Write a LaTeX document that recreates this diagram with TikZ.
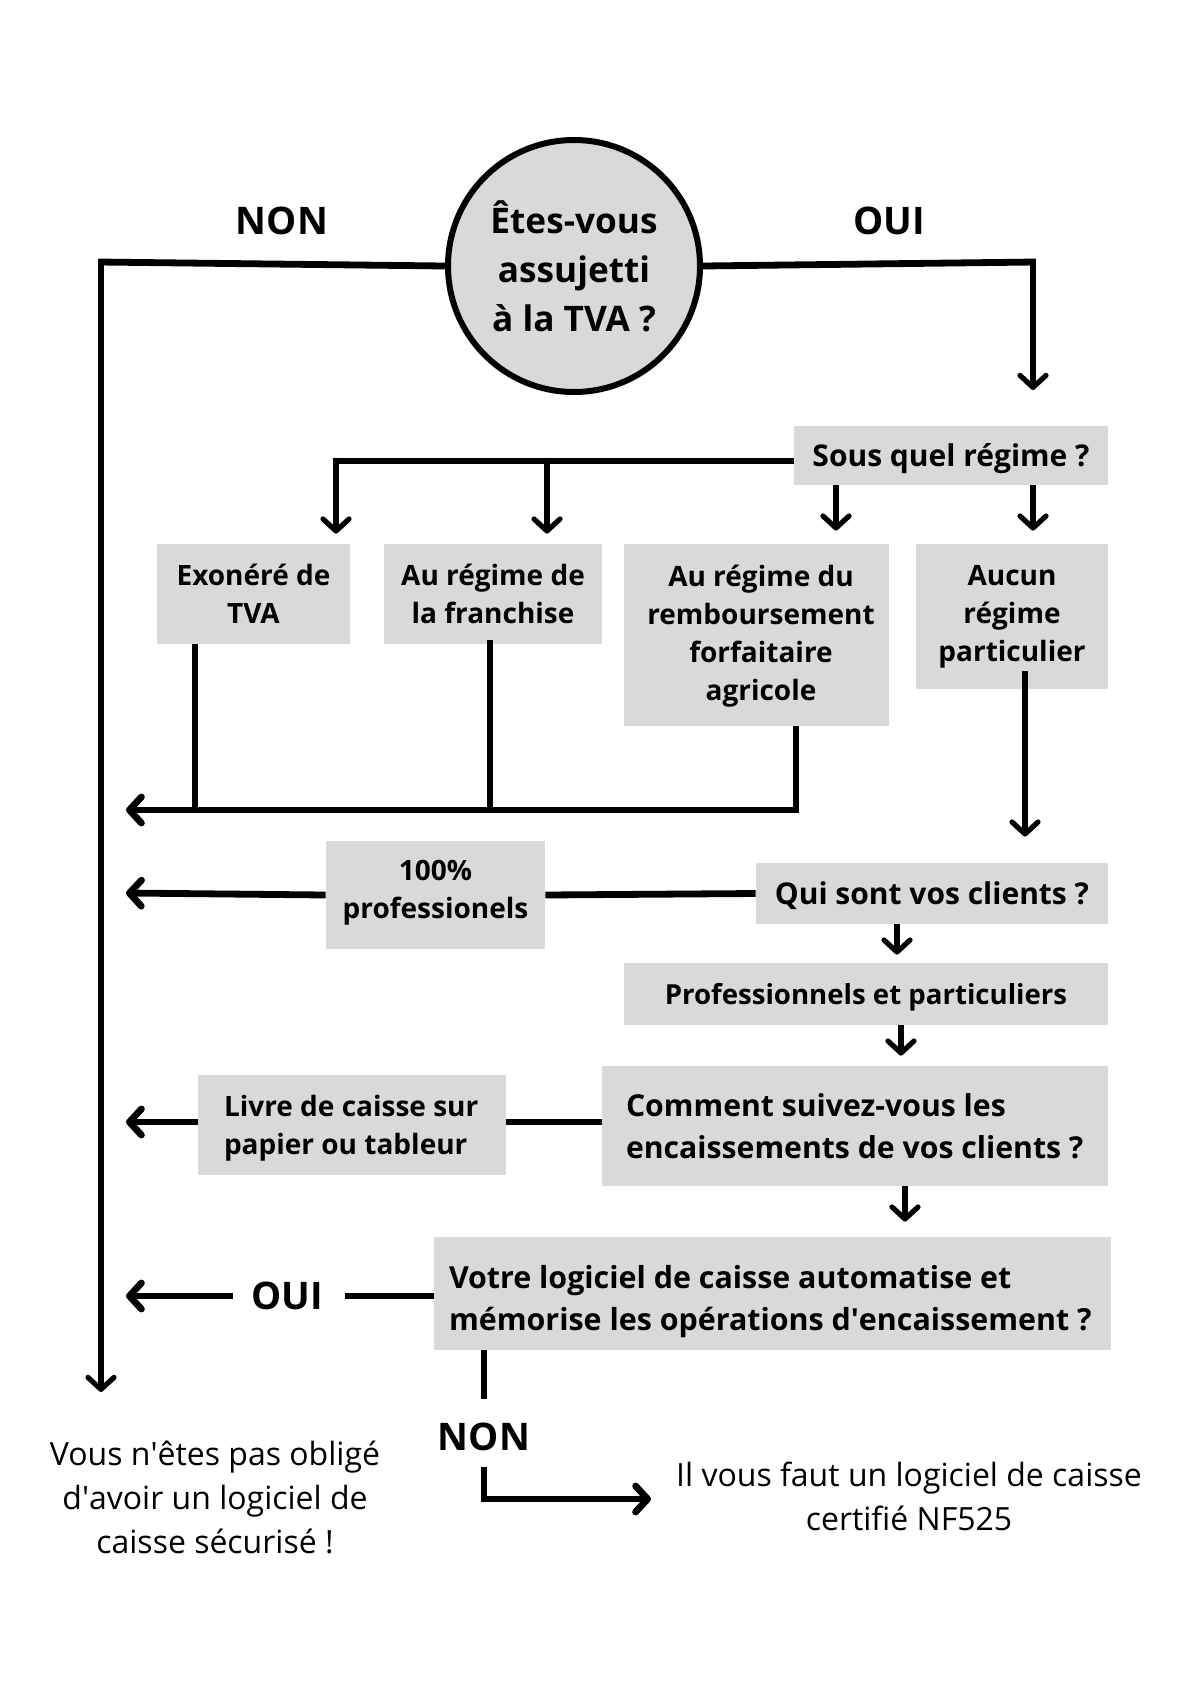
\documentclass[tikz,border=0pt]{standalone}
\usepackage{fontspec}
\setmainfont{Open Sans}
\usetikzlibrary{arrows.meta}
\definecolor{boxgray}{HTML}{D9D9D9}
\begin{document}
\begin{tikzpicture}[x=0.5pt,y=-0.5pt,
  box/.style={fill=boxgray, inner sep=0pt, font=\bfseries\fontsize{14}{19}\selectfont, align=center},
  txt/.style={inner sep=0pt, font=\bfseries\fontsize{14}{19}\selectfont, align=center},
  lbl/.style={font=\bfseries\fontsize{19}{23}\selectfont, inner sep=0pt},
  thick line/.style={line width=3.4pt},
  thin line/.style={line width=2.6pt},
  arr/.style={-{Straight Barb[length=6pt,width=13pt,round]}},
  note/.style={font=\fontsize{16}{22}\selectfont, align=center, inner sep=0pt}]
\useasboundingbox (0,0) rectangle (1200,1698);
\fill[white] (0,0) rectangle (1200,1698);

% circle
\node[circle, draw, line width=3pt, fill=boxgray, minimum size=252pt*0.5, inner sep=0pt,
  font=\bfseries\fontsize{17.6}{24.5}\selectfont, align=center] (circ) at (574,266)
  {Êtes-vous\\assujetti\\à la TVA ?};
\node[lbl] (non1) at (282,221) {NON};
\node[lbl] (oui1) at (889,221) {OUI};

% boxes
\node[box, minimum width=157pt, minimum height=29.5pt] (sous) at (951,455.5) {};
\node[txt, font=\bfseries\fontsize{15}{19}\selectfont] (soust) at (951,459) {Sous quel régime ?};
\node[box, minimum width=96.5pt, minimum height=50pt] (exo) at (253.5,594) {Exonéré de\\TVA};
\node[box, minimum width=109pt, minimum height=50pt] (fran) at (493,594) {Au régime de\\la franchise};
\node[box, minimum width=132.5pt, minimum height=91pt] (remb) at (756.5,635) {};
\node[txt] (rembt) at (761,636.5) {Au régime du\\remboursement\\forfaitaire\\agricole};
\node[box, minimum width=96pt, minimum height=72.5pt] (aucun) at (1012,616.5) {Aucun\\régime\\particulier};
\node[box, minimum width=109.5pt, minimum height=54pt] (pro) at (435.5,895) {};
\node[txt] (prot) at (435.5,893) {100\%\\professionels};
\node[box, minimum width=176pt, minimum height=30.5pt] (qui) at (932,893.5) {};
\node[txt, font=\bfseries\fontsize{15}{19}\selectfont] (quit) at (932,895.5) {Qui sont vos clients ?};
\node[box, minimum width=242pt, minimum height=31pt] (ppart) at (866,994) {};
\node[txt, font=\bfseries\fontsize{13.8}{18}\selectfont] (ppartt) at (866,997) {Professionnels et particuliers};
\node[box, minimum width=253pt, minimum height=60pt] (comment) at (855,1126) {};
\node[anchor=west, align=left, inner sep=0pt, font=\bfseries\fontsize{15.1}{21}\selectfont] (commentt) at ([xshift=12pt]comment.west) {Comment suivez-vous les\\encaissements de vos clients ?};
\node[box, minimum width=154pt, minimum height=50pt] (livre) at (352,1125) {};
\node[anchor=west, align=left, inner sep=0pt, font=\bfseries\fontsize{14}{19}\selectfont] (livret) at ([xshift=13pt,yshift=-1.6pt]livre.west) {Livre de caisse sur\\papier ou tableur};
\node[box, minimum width=338.5pt, minimum height=56.5pt] (votre) at (772.5,1293.5) {};
\node[anchor=west, align=left, inner sep=0pt, font=\bfseries\fontsize{15.2}{21}\selectfont] (votret) at ([xshift=7.5pt,yshift=-4pt]votre.west) {Votre logiciel de caisse automatise et\\mémorise les opérations d\textquotesingle encaissement ?};

\node[lbl] (oui2) at (287,1296) {OUI};
\node[lbl] (non2) at (484,1437) {NON};

\node[note] (endno) at (215,1497) {Vous n\textquotesingle êtes pas obligé\\d\textquotesingle avoir un logiciel de\\caisse sécurisé !};
\node[note] (endyes) at (909,1496) {Il vous faut un logiciel de caisse\\certifié NF525};

% coordinates
\coordinate (nl) at (101,262);
\coordinate (nend) at (101,1392);
\coordinate (orr) at (1033,262);
\coordinate (oend) at (1033,390);
\coordinate (b0) at (794,461);
\coordinate (b1) at (336,461);
\coordinate (b2) at (547,461);
\coordinate (merge) at (796,810);
\coordinate (mergeend) at (126,810);
\coordinate (proend) at (126,893);
\coordinate (livend) at (126,1122);
\coordinate (ouiend) at (126,1296);
\coordinate (nonc) at (484,1467);
\coordinate (nonk) at (484,1499);
\coordinate (nonend) at (651,1499);

% connectors
\draw[thick line] (circ.west) -- ([xshift=-1.3pt]nl);
\draw[thin line, arr] ([yshift=1.7pt]nl) -- (nend);
\draw[thick line] (circ.east) -- ([xshift=1.3pt]orr);
\draw[thin line, arr] ([yshift=1.7pt]orr) -- (oend);
\draw[thick line] (b0) -- ([xshift=-1.3pt]b1);
\draw[thin line, arr] ([yshift=1.7pt]b1) -- ([yshift=5pt]exo.north -| 336,0);
\draw[thin line, arr] ([yshift=1.7pt]b2) -- ([yshift=5pt]fran.north -| 547,0);
\draw[thin line, arr] (sous.south -| 836,0) -- ([yshift=6.5pt]remb.north -| 836,0);
\draw[thin line, arr] (sous.south -| 1033,0) -- ([yshift=6.5pt]aucun.north -| 1033,0);
\draw[thin line] (exo.south -| 195,0) -- (195,810);
\draw[thin line] ([yshift=2pt]fran.south -| 490,0) -- (490,810);
\draw[thin line] (remb.south -| 796,0) -- ([yshift=-1.7pt]merge);
\draw[thick line, arr] ([xshift=1.3pt]merge) -- (mergeend);
\draw[thin line, arr] ([yshift=9pt]aucun.south -| 1025,0) -- ([yshift=13pt]qui.north -| 1025,0);
\draw[thick line] (qui.west) -- (pro.east);
\draw[thick line, arr] (pro.west) -- (proend);
\draw[thin line, arr] (qui.south -| 897,0) -- ([yshift=4pt]ppart.north -| 897,0);
\draw[thin line, arr] (ppart.south -| 901,0) -- ([yshift=5pt]comment.north -| 901,0);
\draw[thick line] (comment.west |- livend) -- (livre.east |- livend);
\draw[thick line, arr] (livre.west |- livend) -- (livend);
\draw[thin line, arr] (comment.south -| 905,0) -- ([yshift=7.5pt]votre.north -| 905,0);
\draw[thick line] (votre.west |- ouiend) -- ([xshift=11pt]oui2.east |- ouiend);
\draw[thick line, arr] ([xshift=-9pt]oui2.west |- ouiend) -- (ouiend);
\draw[thin line] (votre.south -| 484,0) -- ([yshift=12pt]non2.north);
\draw[thin line] (nonc) -- ([yshift=1.7pt]nonk);
\draw[thick line, arr] ([xshift=-1.3pt]nonk) -- (nonend);
\end{tikzpicture}
\end{document}
